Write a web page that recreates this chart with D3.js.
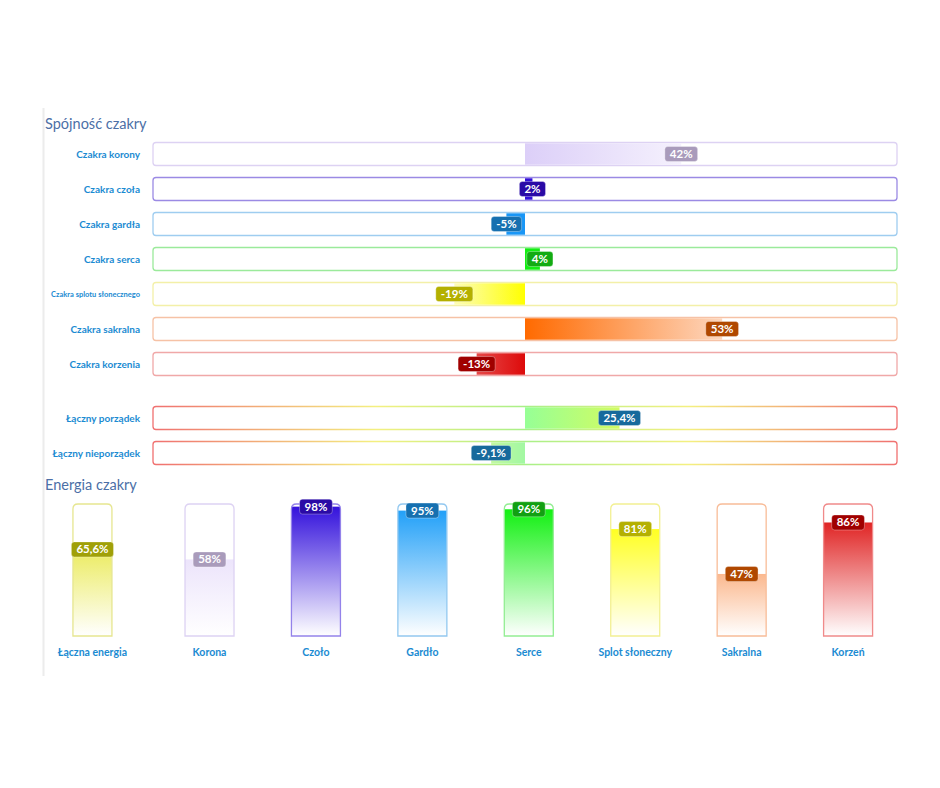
<!DOCTYPE html>
<html><head><meta charset="utf-8">
<script src="https://cdn.jsdelivr.net/npm/d3@7/dist/d3.min.js"></script>
<style>body{margin:0;background:#fff}svg{display:block}</style>
</head><body>
<svg id="c" width="940" height="788"></svg>
<script>
// ---- data ----
const rowLabels = ["Czakra korony","Czakra czoła","Czakra gardła","Czakra serca","Czakra splotu słonecznego","Czakra sakralna","Czakra korzenia"];
const rowValues = [42, 2, -5, 4, -19, 53, -13];
const totalLabels = ["Łączny porządek","Łączny nieporządek"];
const totalValues = [25.4, -9.1];
const energyLabels = ["Łączna energia","Korona","Czoło","Gardło","Serce","Splot słoneczny","Sakralna","Korzeń"];
const energyValues = [65.6, 58, 98, 95, 96, 81, 47, 86];
// colours (styles)
const rowBorder = ["#ddd2f3","#9b8ae4","#9fcdf0","#9bea9b","#f3f0a8","#f6c2a6","#f0a8a8"];
const rowFillStrong = ["#dccff8","#3410d8","#1896f6","#12ee12","#ffff00","#ff6a00","#dd0a0a"];
const rowFillWeak = ["#f5f1fd","#3410d8","#1896f6","#12ee12","#fdfdb8","#fdd6bd","#e64848"];
const rowLabelBg = ["#a99bbb","#2a0aa6","#1670b0","#12ab12","#b4b000","#b04800","#a00000"];
const totalFillStrong = ["#96ff96","#a2f8a2"];
const totalFillWeak = ["#d2fc62","#c2f8a2"];
const totalLabelBg = ["#176a9c","#176a9c"];
const enBorder = ["#e6e690","#ddd2f3","#9482ea","#92c8f0","#92ee92","#f2f092","#f8bc98","#f08a8a"];
const enFill = ["#ebeb60","#ece4fb","#3412dc","#22a0f8","#12f012","#ffff22","#fbb88e","#e02424"];
const enLabelBg = ["#a0a008","#a99bbb","#2a0aa6","#1670b0","#12a012","#b4b000","#b04800","#a00000"];

const fmt = v => d3.format(".1~f")(v).replace(".", ",").replace("\u2212", "-") + "%";

const svg = d3.select("#c");
const FONT = "Lato, 'Open Sans', sans-serif";
const defs = svg.append("defs");

// left rule
svg.append("line").attr("x1",43.5).attr("x2",43.5).attr("y1",108).attr("y2",676)
  .attr("stroke","#ececec").attr("stroke-width",2);

// titles
svg.append("text").attr("x",45).attr("y",129).text("Spójność czakry")
  .attr("font-family",FONT).attr("font-size",14.5).attr("fill","#4c6fa6");
svg.append("text").attr("x",45).attr("y",490).text("Energia czakry")
  .attr("font-family",FONT).attr("font-size",14.5).attr("fill","#4c6fa6");

// scales
const x = d3.scaleLinear().domain([-100,100]).range([153,897]);
const yRows = d3.scaleBand().domain(rowLabels).range([136.5,381.5]);
const yTot = d3.scaleBand().domain(totalLabels).range([400.5,470.5]);
const TH = 23;

function gradH(id, x1, x2, c1, c2){
  const g = defs.append("linearGradient").attr("id",id).attr("gradientUnits","userSpaceOnUse")
    .attr("x1",x1).attr("x2",x2).attr("y1",0).attr("y2",0);
  g.append("stop").attr("offset",0).attr("stop-color",c1);
  g.append("stop").attr("offset",1).attr("stop-color",c2);
  return `url(#${id})`;
}
// border gradient for totals
const tg = defs.append("linearGradient").attr("id","totBorder").attr("gradientUnits","userSpaceOnUse")
  .attr("x1",153).attr("x2",897).attr("y1",0).attr("y2",0);
[[0,"#f07070"],[0.3,"#f4f080"],[0.5,"#a8f088"],[0.72,"#f4f080"],[1,"#f07070"]]
  .forEach(([o,c])=>tg.append("stop").attr("offset",o).attr("stop-color",c));

function labelBox(g, cx, cy, txt, bg, minW){
  const t = g.append("text").attr("x",cx).attr("y",cy+4).attr("text-anchor","middle")
    .attr("font-family",FONT).attr("font-weight","bold").attr("font-size",11.5)
    .attr("fill","#fff").text(txt);
  const w = Math.max(minW||0, t.node().getComputedTextLength()+10);
  g.insert("rect", () => t.node())
    .attr("x",cx-w/2).attr("y",cy-7.5).attr("width",w).attr("height",15).attr("rx",3)
    .attr("fill",bg).attr("stroke","#ffffff").attr("stroke-opacity",0.4).attr("stroke-width",0.8);
}

function hRow(label, value, cy, border, strong, weak, lbg, id, small){
  const g = svg.append("g");
  g.append("text").attr("x",140).attr("y",cy+(small?2.5:3.5)).attr("text-anchor","end")
    .attr("font-family",FONT).attr("font-weight","bold").attr("font-size",small?7.5:10)
    .attr("fill","#1b8bd2").text(label);
  g.append("rect").attr("x",x(-100)).attr("y",cy-TH/2).attr("width",x(100)-x(-100)).attr("height",TH)
    .attr("rx",3).attr("fill","#fff").attr("stroke",border).attr("stroke-width",1.3);
  const x0 = x(0), x1 = x(value);
  g.append("rect").attr("x",Math.min(x0,x1)).attr("y",cy-TH/2+0.8)
    .attr("width",Math.abs(x1-x0)).attr("height",TH-1.6)
    .attr("fill",gradH(id,x0,x1,strong,weak));
  labelBox(g, x1, cy, fmt(value), lbg);
}

rowLabels.forEach((l,i)=>{
  hRow(l, rowValues[i], yRows(l)+yRows.bandwidth()/2, rowBorder[i], rowFillStrong[i], rowFillWeak[i], rowLabelBg[i], "rg"+i, i===4);
});
totalLabels.forEach((l,i)=>{
  hRow(l, totalValues[i], yTot(l)+yTot.bandwidth()/2, "url(#totBorder)", totalFillStrong[i], totalFillWeak[i], totalLabelBg[i], "tg"+i, false);
});

// energy vertical bars: chakra bars on a band scale, total bar one slot (plus a little) to the left
const xb = d3.scaleBand().domain(energyLabels.slice(1)).range([156.3,901.3]);
const posX = (l,i) => i===0 ? xb(energyLabels[1]) + xb.bandwidth()/2 - xb.step()*1.1
                            : xb(l) + xb.bandwidth()/2;
const yv = d3.scaleLinear().domain([0,100]).range([636,504]);
energyLabels.forEach((l,i)=>{
  const cx = posX(l,i);
  const w = i===0 ? 39 : 49;
  const g = svg.append("g");
  const gid = "eg"+i;
  const gr = defs.append("linearGradient").attr("id",gid).attr("gradientUnits","userSpaceOnUse")
    .attr("x1",0).attr("x2",0).attr("y1",yv(energyValues[i])).attr("y2",yv(0));
  gr.append("stop").attr("offset",0).attr("stop-color",enFill[i]);
  gr.append("stop").attr("offset",1).attr("stop-color","#ffffff");
  const cid = "clip"+i;
  defs.append("clipPath").attr("id",cid).append("rect")
    .attr("x",cx-w/2).attr("y",yv(100)).attr("width",w).attr("height",yv(0)-yv(100)).attr("rx",5);
  g.append("rect").attr("x",cx-w/2).attr("y",yv(100)).attr("width",w).attr("height",yv(0)-yv(100))
    .attr("rx",5).attr("fill","#fff");
  g.append("rect").attr("clip-path",`url(#${cid})`)
    .attr("x",cx-w/2).attr("y",yv(energyValues[i])).attr("width",w)
    .attr("height",yv(0)-yv(energyValues[i])).attr("fill",`url(#${gid})`);
  g.append("path").attr("fill","none").attr("stroke",enBorder[i]).attr("stroke-width",1.3)
    .attr("d",()=>{
      const L=cx-w/2,R=cx+w/2,T=yv(100),B=yv(0),r=5;
      return `M${L},${B}V${T+r}Q${L},${T} ${L+r},${T}H${R-r}Q${R},${T} ${R},${T+r}V${B}Z`;
    });
  labelBox(g, cx, yv(energyValues[i]), fmt(energyValues[i]), enLabelBg[i], i===0?41:0);
  g.append("text").attr("x",cx).attr("y",655.5).attr("text-anchor","middle")
    .attr("font-family",FONT).attr("font-weight","bold").attr("font-size",10.5)
    .attr("fill","#1b8bd2").text(l);
});
</script>
</body></html>
